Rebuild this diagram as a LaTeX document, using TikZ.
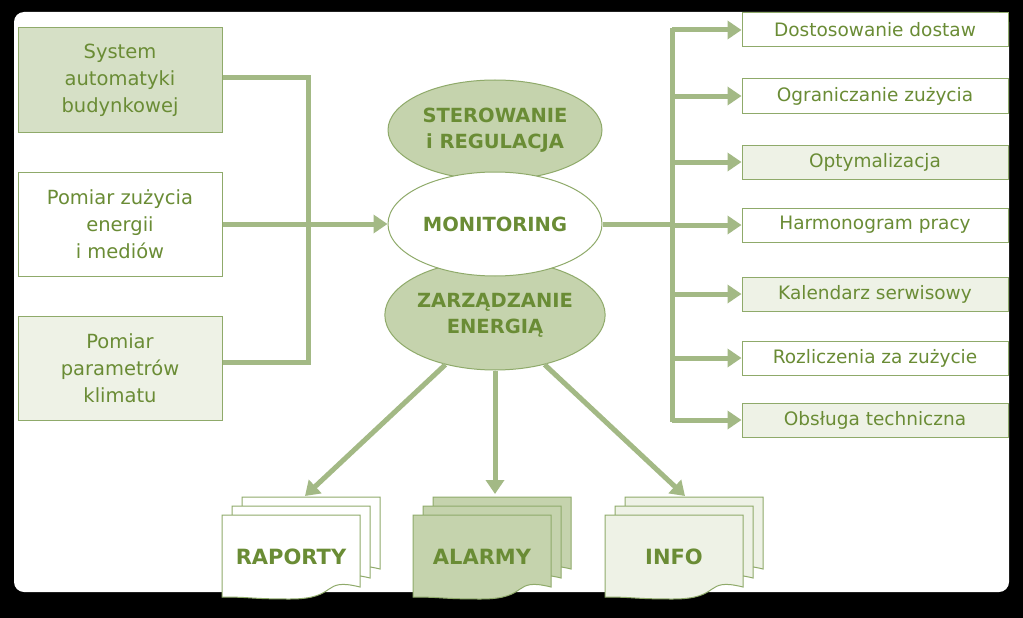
\documentclass[tikz,border=0pt]{standalone}
\usepackage{fontspec}
\setmainfont{DejaVu Sans}
\usetikzlibrary{arrows.meta}
\definecolor{lineg}{HTML}{A3B985}
\definecolor{edgeg}{HTML}{8FAA6A}
\definecolor{textg}{HTML}{6A8C35}
\definecolor{lightg}{HTML}{D6E0C6}
\definecolor{paleg}{HTML}{EEF2E6}
\definecolor{midg}{HTML}{C5D3AD}
\tikzset{
  inbox/.style={draw=edgeg, line width=1pt, text=textg, minimum width=204pt,
    minimum height=104pt, align=center, font=\fontsize{19.5}{27}\selectfont},
  outbox/.style={draw=edgeg, line width=1pt, text=textg, minimum width=266pt,
    minimum height=34pt, font=\fontsize{18.5}{20}\selectfont},
  blob/.style={ellipse, draw=edgeg, line width=1pt, text=textg, align=center,
    inner sep=0pt, font=\bfseries\fontsize{19.5}{26}\selectfont},
  link/.style={draw=lineg, line width=5pt},
  flow/.style={link, -{Triangle[length=14pt,width=18pt]}},
}
\usetikzlibrary{shapes.geometric}
% one stack of three sheets, front one at (#1,#2)
\newcommand\sheet[3]{%
  \filldraw[draw=edgeg, line width=1pt, fill=#3] (#1,#2) -- ++(138,0) -- ++(0,72)
    .. controls +(-40,-10) and +(50,0) .. ++(-70,12)
    .. controls +(-40,0) and +(30,0) .. ++(-68,-2) -- cycle;}
\newcommand\docstack[5]{%
  \sheet{#1+20}{#2-18}{#3}
  \sheet{#1+10}{#2-9}{#3}
  \sheet{#1}{#2}{#3}
  \node[text=textg, font=\bfseries\fontsize{21}{24}\selectfont] (#4) at (#1+69,#2+42) {#5};}
\begin{document}
\begin{tikzpicture}[x=1pt, y=-1pt]
  \fill[black] (0,0) rectangle (1023,618);
  \fill[white, rounded corners=10pt] (14,12) rectangle (1009,592);

  % inputs
  \node[inbox, fill=lightg] (auto) at (120,80) {System\\automatyki\\budynkowej};
  \node[inbox, fill=white] (media) at (120,224) {Pomiar zużycia\\energii\\i mediów};
  \node[inbox, fill=paleg] (klimat) at (120,368) {Pomiar\\parametrów\\klimatu};

  % centre
  \node[blob, fill=midg, minimum width=214pt, minimum height=100pt] (ster) at (495,130) {STEROWANIE\\i REGULACJA};
  \node[blob, fill=midg, minimum width=214pt, minimum height=110pt] (zarz) at (495,315) {ZARZĄDZANIE\\ENERGIĄ};
  \node[blob, fill=white, minimum width=214pt, minimum height=104pt] (mon) at (495,224) {MONITORING};

  \coordinate (join) at (308,224);
  \draw[link] (auto.east |- 0,78) -| (308,362) -- (klimat.east |- 0,362);
  \draw[flow] (media.east) -- (mon.west);

  % outputs
  \coordinate (bus) at (672,224);
  \draw[link] (mon.east) -- (bus);
  \foreach \y/\f/\t [count=\k] in {30/white/Dostosowanie dostaw,
      96/white/Ograniczanie zużycia, 162/paleg/Optymalizacja,
      225/white/Harmonogram pracy, 294/paleg/Kalendarz serwisowy,
      358/white/Rozliczenia za zużycie, 420/paleg/Obsługa techniczna}{
    \node[outbox, fill=\f] (out\k) at (875,\y) {\t};
    \draw[flow] (672,\y) -- (out\k.west);
  }
  \draw[link] (672,28) -- (672,422);

  % documents
  \docstack{222}{515}{white}{rap}{RAPORTY}
  \docstack{413}{515}{midg}{alarm}{ALARMY}
  \docstack{605}{515}{paleg}{info}{INFO}
  \draw[flow] (zarz.225) -- (305,496);
  \draw[flow] (zarz.south) -- (495,494);
  \draw[flow] (zarz.-45) -- (685,496);
\end{tikzpicture}
\end{document}
